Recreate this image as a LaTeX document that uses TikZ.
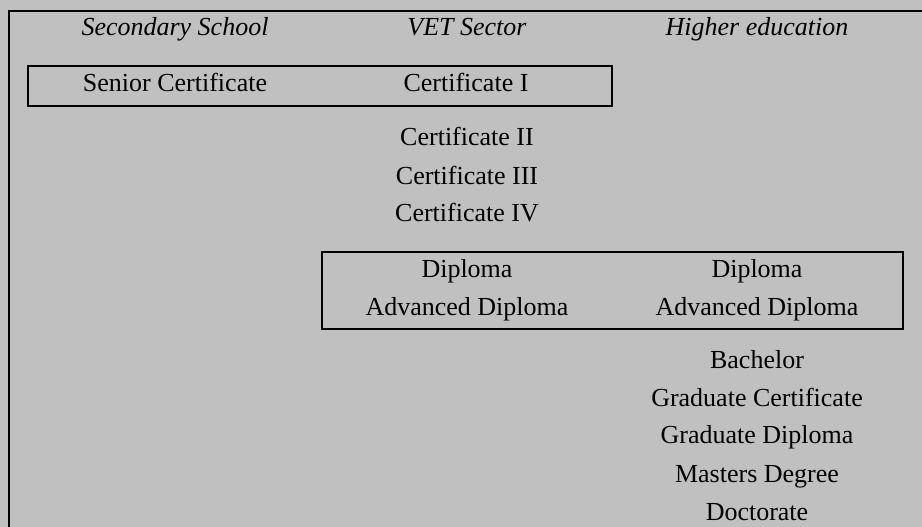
\documentclass[tikz,border=0pt]{standalone}
\usepackage{fontspec}
\setmainfont{Liberation Serif}
\definecolor{bggray}{HTML}{C0C0C0}
\tikzset{
  lbl/.style={anchor=base, inner sep=0pt, font=\fontsize{26}{30}\selectfont},
  hdr/.style={lbl, font=\fontsize{26}{30}\selectfont\itshape},
  frame/.style={line width=2.5pt},
  grp/.style={line width=2.2pt}
}
\begin{document}
\begin{tikzpicture}[x=1pt,y=-1pt]
\fill[bggray] (0,0) rectangle (922,527);
\useasboundingbox (0,0) rectangle (922,527);
% outer frame (left and top)
\draw[frame] (9,527) -- (9,11) -- (922,11);
% headers
\node[hdr] (hs) at (175,36) {Secondary School};
\node[hdr] (hv) at (467,36) {VET Sector};
\node[hdr] (hh) at (757,36) {Higher education};
% row 1
\node[lbl] (sc) at (175,92) {Senior Certificate};
\node[lbl] (c1) at (466,92) {Certificate I};
\draw[grp] (28,66) rectangle (612,106);
% VET certificates
\node[lbl] (c2) at (467,145.5) {Certificate II};
\node[lbl] (c3) at (467,184) {Certificate III};
\node[lbl] (c4) at (467,221) {Certificate IV};
% diplomas
\node[lbl] (d1) at (467,277) {Diploma};
\node[lbl] (a1) at (467,315) {Advanced Diploma};
\node[lbl] (d2) at (757,277) {Diploma};
\node[lbl] (a2) at (757,315) {Advanced Diploma};
\draw[grp] (322,252) rectangle (903,329);
% higher education
\node[lbl] (ba) at (757,368) {Bachelor};
\node[lbl] (gc) at (757,406) {Graduate Certificate};
\node[lbl] (gd) at (757,443) {Graduate Diploma};
\node[lbl] (md) at (757,482) {Masters Degree};
\node[lbl] (dr) at (757,520) {Doctorate};
\end{tikzpicture}
\end{document}
